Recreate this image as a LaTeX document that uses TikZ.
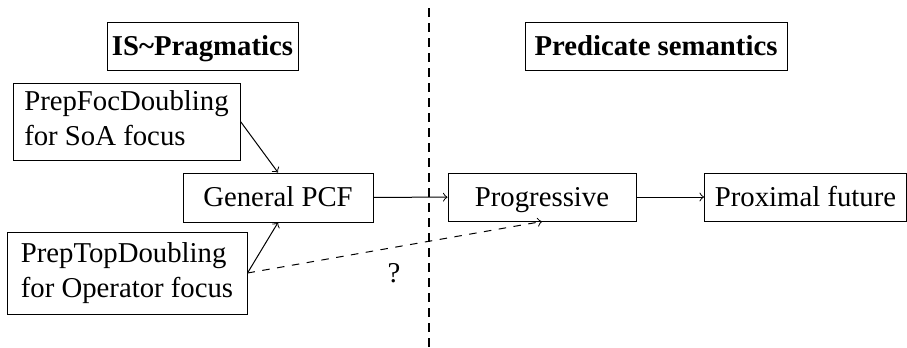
\documentclass[tikz,border=0pt]{standalone}
\usepackage{fontspec}
\setmainfont{Liberation Serif}
\usetikzlibrary{arrows}

\begin{document}
\begin{tikzpicture}[x=0.4pt,y=-0.4pt,
    font=\fontsize{11.5}{14}\selectfont,
    box/.style={draw,align=left,inner sep=0pt,text depth=0.25em},
    line/.style={box,text height=0.75em,text depth=0pt},
    head/.style={line,font=\fontsize{11.5}{14}\selectfont\bfseries}]
  \useasboundingbox (0,0) rectangle (907,347);

  % Headers
  \node[head,minimum width=191*0.4pt,minimum height=48*0.4pt] (isprag) at (202.5,46) {IS\textasciitilde Pragmatics};
  \node[head,minimum width=262*0.4pt,minimum height=48*0.4pt] (predsem) at (656,46) {Predicate semantics};

  % Divider
  \draw[thick,dash pattern=on 3.6pt off 2.4pt] (429,8) -- (429,347);

  % Pragmatic side
  \node[box,minimum width=227*0.4pt,minimum height=77*0.4pt] (focdbl) at (126.5,121.5) {PrepFocDoubling\\for SoA focus};
  \node[line,minimum width=190*0.4pt,minimum height=49*0.4pt] (genpcf) at (278,197.5) {General PCF};
  \node[box,minimum width=240*0.4pt,minimum height=82*0.4pt] (topdbl) at (127,273) {PrepTopDoubling\\for Operator focus};

  % Semantic side
  \node[line,minimum width=188*0.4pt,minimum height=48*0.4pt] (prog) at (542,197) {Progressive};
  \node[line,minimum width=202*0.4pt,minimum height=48*0.4pt] (proxfut) at (805.5,197) {Proximal future};

  % Links
  \draw[->] (focdbl.east) -- (genpcf.north);
  \draw[->] (topdbl.east) -- (genpcf.south);
  \draw[->] (genpcf) -- (prog);
  \draw[->] (prog) -- (proxfut);
  \draw[->,dashed] (topdbl.east) -- (prog.south);
  \node (unsure) at (394,273) {?};
\end{tikzpicture}
\end{document}
